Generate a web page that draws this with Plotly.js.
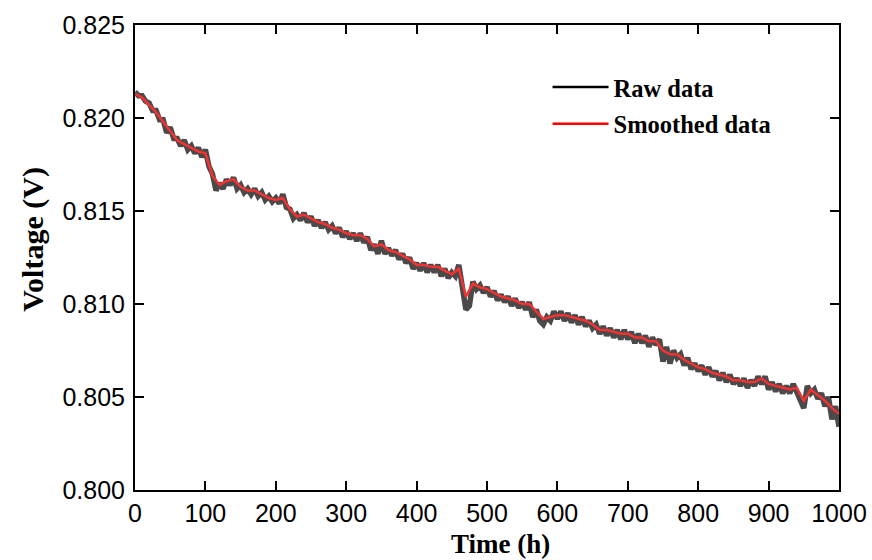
<!DOCTYPE html>
<html>
<head>
<meta charset="utf-8">
<script src="https://cdn.plot.ly/plotly-3.0.1.min.js"></script>
<style>html,body{margin:0;padding:0;background:#fff;}#chart{width:872px;height:560px;}</style>
</head>
<body>
<div id="chart"></div>
<script>
// Raw data: time (h) every 5 h, voltage (V)
const rawTime = [0,5,10,15,20,25,30,35,40,45,50,55,60,65,70,75,80,85,90,95,100,105,110,115,120,125,130,135,140,145,150,155,160,165,170,175,180,185,190,195,200,205,210,215,220,225,230,235,240,245,250,255,260,265,270,275,280,285,290,295,300,305,310,315,320,325,330,335,340,345,350,355,360,365,370,375,380,385,390,395,400,405,410,415,420,425,430,435,440,445,450,455,460,465,470,475,480,485,490,495,500,505,510,515,520,525,530,535,540,545,550,555,560,565,570,575,580,585,590,595,600,605,610,615,620,625,630,635,640,645,650,655,660,665,670,675,680,685,690,695,700,705,710,715,720,725,730,735,740,745,750,755,760,765,770,775,780,785,790,795,800,805,810,815,820,825,830,835,840,845,850,855,860,865,870,875,880,885,890,895,900,905,910,915,920,925,930,935,940,945,950,955,960,965,970,975,980,985,990,995,1000];
const rawVoltage = [
0.8214,0.8212,0.8212,0.8209,0.8208,0.8204,0.8204,0.8199,0.8199,0.8192,
0.8195,0.8189,0.8189,0.8185,0.8188,0.8183,0.8185,0.8181,0.8184,0.8179,
0.8183,0.8174,0.8170,0.8161,0.8165,0.8162,0.8167,0.8164,0.8168,0.8162,
0.8164,0.8160,0.8162,0.8159,0.8162,0.8158,0.8160,0.8156,0.8158,0.8155,
0.8157,0.8154,0.8159,0.8152,0.8151,0.8146,0.8148,0.8145,0.8149,0.8144,
0.8147,0.8142,0.8145,0.8141,0.8144,0.8140,0.8142,0.8138,0.8141,0.8136,
0.8139,0.8135,0.8138,0.8134,0.8138,0.8133,0.8136,0.8129,0.8132,0.8127,
0.8134,0.8127,0.8130,0.8126,0.8129,0.8124,0.8127,0.8122,0.8125,0.8119,
0.8122,0.8118,0.8122,0.8117,0.8121,0.8117,0.8121,0.8115,0.8119,0.8114,
0.8117,0.8115,0.8121,0.8110,0.8097,0.8099,0.8112,0.8108,0.8110,0.8106,
0.8109,0.8104,0.8107,0.8102,0.8105,0.8101,0.8104,0.8099,0.8103,0.8098,
0.8101,0.8097,0.8101,0.8093,0.8097,0.8091,0.8089,0.8093,0.8091,0.8096,
0.8092,0.8096,0.8091,0.8095,0.8090,0.8094,0.8089,0.8093,0.8088,0.8091,
0.8087,0.8089,0.8084,0.8088,0.8083,0.8087,0.8082,0.8086,0.8081,0.8086,
0.8081,0.8085,0.8079,0.8084,0.8079,0.8083,0.8077,0.8082,0.8078,0.8081,
0.8069,0.8077,0.8068,0.8075,0.8071,0.8073,0.8067,0.8071,0.8065,0.8068,
0.8064,0.8067,0.8062,0.8066,0.8061,0.8064,0.8059,0.8063,0.8058,0.8062,
0.8057,0.8060,0.8056,0.8060,0.8055,0.8059,0.8056,0.8061,0.8057,0.8061,
0.8054,0.8058,0.8053,0.8057,0.8052,0.8056,0.8052,0.8057,0.8053,0.8049,
0.8044,0.8056,0.8052,0.8054,0.8049,0.8052,0.8045,0.8050,0.8038,0.8045,
0.8034];

// Smoothed data: time (h) every 10 h, voltage (V)
const smoothTime = [0,10,20,30,40,50,60,70,80,90,100,110,120,130,140,150,160,170,180,190,200,210,220,230,240,250,260,270,280,290,300,310,320,330,340,350,360,370,380,390,400,410,420,430,440,450,460,470,480,490,500,510,520,530,540,550,560,570,580,590,600,610,620,630,640,650,660,670,680,690,700,710,720,730,740,750,760,770,780,790,800,810,820,830,840,850,860,870,880,890,900,910,920,930,940,950,960,970,980,990,1000];
const smoothVoltage = [
0.8213,0.8211,0.8207,0.8203,0.8198,0.8193,0.8188,0.8186,0.8184,0.8182,
0.8181,0.8169,0.8164,0.8166,0.8167,0.8163,0.8161,0.8161,0.8159,0.8157,
0.8156,0.8157,0.8151,0.8147,0.8148,0.8146,0.8144,0.8143,0.8141,0.8140,
0.8138,0.8137,0.8137,0.8135,0.8131,0.8132,0.8129,0.8128,0.8126,0.8124,
0.8121,0.8121,0.8120,0.8120,0.8118,0.8116,0.8119,0.8104,0.8111,0.8109,
0.8108,0.8106,0.8104,0.8103,0.8102,0.8100,0.8100,0.8096,0.8092,0.8093,
0.8094,0.8094,0.8093,0.8092,0.8091,0.8089,0.8086,0.8086,0.8085,0.8084,
0.8084,0.8082,0.8082,0.8080,0.8080,0.8075,0.8073,0.8073,0.8070,0.8068,
0.8066,0.8065,0.8063,0.8062,0.8061,0.8059,0.8059,0.8058,0.8058,0.8060,
0.8057,0.8056,0.8055,0.8054,0.8055,0.8048,0.8054,0.8051,0.8048,0.8044,
0.8041];

const seriesNames = ["Raw data", "Smoothed data"];
const xTitle = "Time (h)";
const yTitle = "Voltage (V)";

const serif = "'Liberation Serif', 'Times New Roman', serif";
const sans = "'Liberation Sans', Arial, sans-serif";

const traces = [
  {x: rawTime, y: rawVoltage, mode: 'lines', line: {color: '#4a4a4a', width: 5.5}, showlegend: false, hoverinfo: 'skip'},
  {x: smoothTime, y: smoothVoltage, mode: 'lines', line: {color: '#f53232', width: 2.5}, showlegend: false},
  {x: [null], y: [null], mode: 'lines', name: seriesNames[0], legendgroup: 'a', line: {color: '#000000', width: 2.5}},
  {x: [null], y: [null], mode: 'lines', name: seriesNames[1], legendgroup: 'b', line: {color: '#ff0000', width: 2.5}}
];

const axisCommon = {
  showline: true, linecolor: '#000', linewidth: 2, mirror: 'ticks',
  ticks: 'inside', ticklen: 9, tickwidth: 2, tickcolor: '#000',
  showgrid: false, zeroline: false,
  tickfont: {family: sans, size: 25, color: '#000'}
};

const layout = {
  width: 872, height: 560,
  margin: {l: 135, r: 33, t: 25, b: 70},
  paper_bgcolor: '#fff', plot_bgcolor: '#fff',
  xaxis: Object.assign({}, axisCommon, {
    range: [0, 1000], dtick: 100, tick0: 0
  }),
  yaxis: Object.assign({}, axisCommon, {
    range: [0.800, 0.825], dtick: 0.005, tick0: 0.800, tickformat: '.3f',
    ticklabelstandoff: 3
  }),
  annotations: [
    {text: '<b>' + xTitle + '</b>', xref: 'paper', yref: 'paper', x: 0.519, y: -0.116,
     xanchor: 'center', yanchor: 'middle', showarrow: false,
     font: {family: serif, size: 27, color: '#000'}},
    {text: '<b>' + yTitle + '</b>', xref: 'paper', yref: 'paper', x: -0.145, y: 0.54,
     xanchor: 'center', yanchor: 'middle', showarrow: false, textangle: -90,
     font: {family: serif, size: 30, color: '#000'}}
  ],
  legend: {
    x: 0.586, y: 0.915, xanchor: 'left', yanchor: 'top',
    bgcolor: 'rgba(0,0,0,0)', itemwidth: 56,
    font: {family: serif, size: 24.5, color: '#000', weight: 'bold'},
    tracegroupgap: 2, traceorder: 'grouped'
  },
  showlegend: true
};

Plotly.newPlot('chart', traces, layout, {displayModeBar: false, staticPlot: true});
</script>
</body>
</html>
